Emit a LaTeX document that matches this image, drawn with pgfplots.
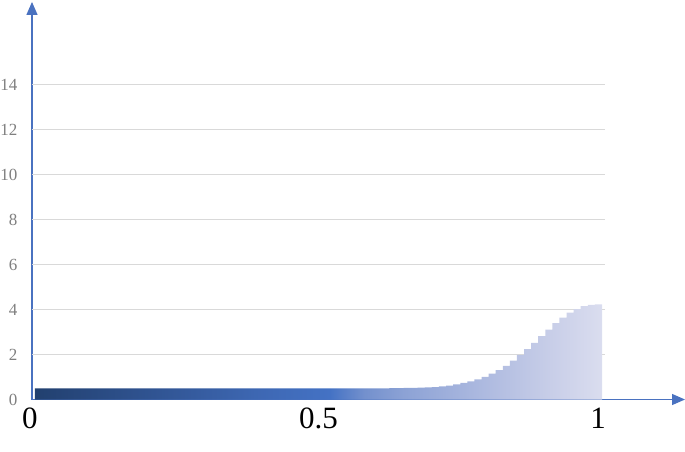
\documentclass[border=0pt]{standalone}
\usepackage{fontspec}
\setmainfont{Liberation Serif}
\usepackage{pgfplots}
\pgfplotsset{compat=1.18}
\usepackage{pgfplotstable}
\usetikzlibrary{arrows.meta}

\definecolor{axisblue}{HTML}{4A72C0}
\definecolor{gridgray}{HTML}{D9D9D9}
\definecolor{tickgray}{HTML}{7F7F7F}
\definecolor{c0}{HTML}{22406F}
\definecolor{c1}{HTML}{335899}
\definecolor{c2}{HTML}{3E68B4}
\definecolor{c3}{HTML}{4472C4}
\definecolor{c4}{HTML}{7390CD}
\definecolor{c5}{HTML}{8CA2D5}
\definecolor{c6}{HTML}{ABB8DF}
\definecolor{c7}{HTML}{C8CEE8}
\definecolor{c8}{HTML}{DADDEF}

% gradient across the bars, 25bp..75bp is the filled box
\pgfdeclarehorizontalshading{barfade}{100bp}{color(0bp)=(c0); color(25bp)=(c0);
  color(37.5bp)=(c1); color(45bp)=(c2); color(51bp)=(c3); color(54bp)=(c4);
  color(57.5bp)=(c5); color(64bp)=(c6); color(70.5bp)=(c7); color(75bp)=(c8);
  color(100bp)=(c8)}

% 80 bins on [0,1], left edge and height
\pgfplotstableread{
x y
0 0.5
0.0125 0.5
0.025 0.5
0.0375 0.5
0.05 0.5
0.0625 0.5
0.075 0.5
0.0875 0.5
0.1 0.5
0.1125 0.5
0.125 0.5
0.1375 0.5
0.15 0.5
0.1625 0.5
0.175 0.5
0.1875 0.5
0.2 0.5
0.2125 0.5
0.225 0.5
0.2375 0.5
0.25 0.5
0.2625 0.5
0.275 0.5
0.2875 0.5
0.3 0.5
0.3125 0.5
0.325 0.5
0.3375 0.5
0.35 0.5
0.3625 0.5
0.375 0.5
0.3875 0.5
0.4 0.5
0.4125 0.5
0.425 0.5
0.4375 0.5
0.45 0.5
0.4625 0.5
0.475 0.5
0.4875 0.5
0.5 0.5
0.5125 0.5
0.525 0.5
0.5375 0.5
0.55 0.5
0.5625 0.5
0.575 0.5
0.5875 0.5
0.6 0.5
0.6125 0.5
0.625 0.505
0.6375 0.51
0.65 0.515
0.6625 0.52
0.675 0.53
0.6875 0.54
0.7 0.555
0.7125 0.58
0.725 0.62
0.7375 0.67
0.75 0.74
0.7625 0.81
0.775 0.90
0.7875 1.01
0.8 1.15
0.8125 1.31
0.825 1.50
0.8375 1.73
0.85 1.98
0.8625 2.24
0.875 2.52
0.8875 2.82
0.9 3.11
0.9125 3.39
0.925 3.64
0.9375 3.86
0.95 4.02
0.9625 4.15
0.975 4.21
0.9875 4.23
1 4.23
}\bars

\begin{document}
\begin{tikzpicture}
\begin{axis}[
  x=567pt, y=22.5pt,
  xmin=-0.0053, xmax=1.1464,
  ymin=0, ymax=17.67,
  axis lines*=left,
  axis line style={draw=axisblue, line width=1.2pt, -{Triangle[length=13pt,width=11pt]}},
  major tick length=0pt,
  tick style={draw=none},
  xtick={0,0.5,1},
  xticklabels={0\hspace*{10pt},0.5,1\hspace*{8pt}},
  xticklabel style={font=\fontsize{31}{31}\selectfont, text=black, yshift=-5pt},
  ytick={0,2,4,6,8,10,12,14},
  yticklabels={0,2,4,6,8,10,12,14},
  yticklabel style={font=\fontsize{17}{17}\selectfont, text=tickgray, xshift=-11pt},
  clip=false,
]
\coordinate (o) at (axis cs:0,0);
\pgfplotsinvokeforeach{2,4,...,14}{
  \draw[gridgray, line width=1.2pt] (axis cs:-0.0053,#1) -- (axis cs:1.0053,#1);
}
\addplot[const plot, draw=none, shading=barfade] table[x=x, y=y] {\bars} \closedcycle;
\end{axis}
\pgfresetboundingbox
\path[use as bounding box] ([shift={(-35pt,-51.5pt)}]o) rectangle ([shift={(650pt,399.5pt)}]o);
\end{tikzpicture}
\end{document}
